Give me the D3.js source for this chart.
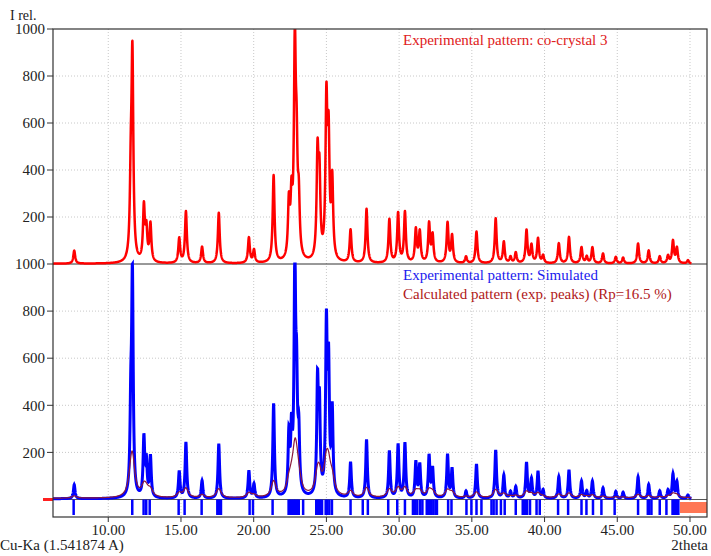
<!DOCTYPE html>
<html>
<head>
<meta charset="utf-8">
<script src="https://cdn.jsdelivr.net/npm/d3@7"></script>
<style>
  body { margin: 0; background: #fff; }
  svg { display: block; }
  text { font-family: "Times New Roman", "Liberation Serif", "DejaVu Serif", serif; }
</style>
</head>
<body>
<svg width="711" height="556"></svg>
<script>
'use strict';

// peak positions (2theta) and relative intensities
const peakPos = [7.66, 11.55, 11.66, 12.45, 12.62, 12.90, 14.88, 15.34, 16.45, 17.60,
  19.67, 20.02, 21.37, 22.42, 22.60, 22.83, 22.95, 23.10, 24.39, 24.52,
  25.00, 25.15, 25.40, 26.66, 27.76, 29.33, 29.93, 30.40, 31.15, 31.42,
  32.06, 32.30, 33.33, 33.64, 34.60, 35.32, 36.64, 37.20, 37.66, 38.02,
  38.76, 39.10, 39.55, 39.90, 40.98, 41.68, 42.54, 42.90, 43.29, 44.02,
  44.90, 45.40, 46.43, 47.16, 47.92, 48.49, 48.83, 49.10, 49.86];
const peakInt = [55, 300, 850, 230, 130, 160, 105, 220, 70, 215,
  108, 55, 370, 230, 230, 880, 380, 220, 430, 330,
  650, 480, 330, 140, 230, 185, 210, 215, 140, 130,
  165, 115, 170, 115, 28, 135, 190, 90, 26, 45,
  140, 75, 105, 32, 85, 112, 68, 28, 68, 42,
  28, 25, 85, 55, 30, 32, 95, 65, 14];

// reflection markers under the lower pattern
const reflections = [7.62, 11.65, 12.43, 12.61, 12.85, 14.84, 15.25, 16.42, 17.5, 17.6, 17.75,
  19.72, 19.95, 21.3, 22.4, 22.5, 22.62, 22.75, 22.85, 22.98, 23.1, 23.4,
  24.3, 24.42, 24.55, 24.7, 24.95, 25.05, 25.2, 25.38, 26.66, 27.5, 27.85,
  29.25, 29.87, 30.4, 30.95, 31.1, 31.25, 31.45, 31.6, 31.9, 32.05, 32.2, 32.35, 32.5, 32.6,
  33.37, 33.6, 34.63, 34.97, 35.32, 35.66, 36.35, 36.5, 36.7, 37.0, 37.26, 38.02,
  38.5, 38.65, 38.8, 39.0, 39.45, 39.67, 40.93, 41.62, 42.54, 42.88, 43.33, 43.91,
  44.82, 46.43, 47.1, 47.2, 47.35, 47.92, 48.38, 48.8, 48.9, 49.0, 49.1, 49.2];

const xTicks = [10, 15, 20, 25, 30, 35, 40, 45, 50];
const yTicks = [200, 400, 600, 800, 1000];

const svg = d3.select('svg');

const x = d3.scaleLinear().domain([6.2, 51.17]).range([53, 707]);
const yTop = d3.scaleLinear().domain([0, 1000]).range([264, 29]);
const yBot = d3.scaleLinear().domain([0, 1000]).range([499.5, 264]);

function profile(gamma, scale, bg) {
  const pts = [];
  for (let t = 6.2; t <= 50.1; t += 0.01) {
    let v = bg;
    for (let i = 0; i < peakPos.length; i++) {
      const d = t - peakPos[i];
      v += scale * peakInt[i] * gamma * gamma / (d * d + gamma * gamma);
    }
    pts.push([t, v]);
  }
  return pts;
}

const expTop = profile(0.075, 1, 1);
const expBot = profile(0.065, 1.08, 3);
const calc = profile(0.2, 0.18, 5);

svg.append('defs').append('clipPath').attr('id', 'plot')
  .append('rect').attr('x', 53).attr('y', 29).attr('width', 654).attr('height', 488);

// grid
const grid = svg.append('g').attr('stroke', '#c8c8c8').attr('stroke-dasharray', '1,2');
grid.selectAll('.vg').data(xTicks).enter().append('line')
  .attr('x1', d => x(d)).attr('x2', d => x(d)).attr('y1', 29).attr('y2', 517);
grid.selectAll('.hg1').data([200, 400, 600, 800]).enter().append('line')
  .attr('x1', 53).attr('x2', 707).attr('y1', d => yTop(d)).attr('y2', d => yTop(d));
grid.selectAll('.hg2').data([200, 400, 600, 800]).enter().append('line')
  .attr('x1', 53).attr('x2', 707).attr('y1', d => yBot(d)).attr('y2', d => yBot(d));

// panel separators
svg.append('line').attr('x1', 53).attr('x2', 707).attr('y1', 264).attr('y2', 264)
  .attr('stroke', '#333').attr('stroke-width', 1);
svg.append('line').attr('x1', 53).attr('x2', 707).attr('y1', yBot(0)).attr('y2', yBot(0))
  .attr('stroke', '#555').attr('stroke-width', 1);

const plot = svg.append('g').attr('clip-path', 'url(#plot)');

// top: experimental pattern
plot.append('path')
  .datum(expTop)
  .attr('fill', 'none')
  .attr('stroke', '#ff0000')
  .attr('stroke-width', 2.5)
  .attr('stroke-linejoin', 'round')
  .attr('d', d3.line().x(d => x(d[0])).y(d => yTop(Math.min(d[1], 1000))));

// bottom: simulated (blue) and calculated (dark red)
plot.append('path')
  .datum(expBot)
  .attr('fill', 'none')
  .attr('stroke', '#0000ff')
  .attr('stroke-width', 3)
  .attr('d', d3.line().x(d => x(d[0])).y(d => yBot(Math.min(d[1], 1000))));

plot.append('path')
  .datum(calc)
  .attr('fill', 'none')
  .attr('stroke', '#8b1a3c')
  .attr('stroke-width', 1.2)
  .attr('d', d3.line().x(d => x(d[0])).y(d => yBot(d[1])));

// reflection markers
plot.selectAll('.refl').data(reflections).enter().append('line')
  .attr('x1', d => x(d)).attr('x2', d => x(d))
  .attr('y1', yBot(0)).attr('y2', 515)
  .attr('stroke', '#0000ff').attr('stroke-width', 2.5);

svg.append('rect').attr('x', 680).attr('y', 502).attr('width', 27).attr('height', 11)
  .attr('fill', '#ff7755');

svg.append('line').attr('x1', 43).attr('x2', 53).attr('y1', yBot(0)).attr('y2', yBot(0))
  .attr('stroke', '#ff2020').attr('stroke-width', 3);

// frame
svg.append('rect').attr('x', 53).attr('y', 29).attr('width', 654).attr('height', 488)
  .attr('fill', 'none').attr('stroke', '#333').attr('stroke-width', 1.2);

// y axis ticks and labels
const yl = svg.append('g').attr('font-size', 15).attr('fill', '#222').attr('text-anchor', 'end');
[[yTop, yTicks], [yBot, [200, 400, 600, 800]]].forEach(([sc, ticks]) => {
  ticks.forEach(v => {
    svg.append('line').attr('x1', 47).attr('x2', 53).attr('y1', sc(v)).attr('y2', sc(v))
      .attr('stroke', '#333');
    yl.append('text').attr('x', 45).attr('y', sc(v)).attr('dy', '0.35em').text(v);
  });
});
svg.append('line').attr('x1', 47).attr('x2', 53).attr('y1', 264).attr('y2', 264).attr('stroke', '#333');
yl.append('text').attr('x', 45).attr('y', 264).attr('dy', '0.35em').text('1000');

svg.append('text').attr('x', 10).attr('y', 20).attr('font-size', 14).attr('fill', '#222').text('I rel.');

// x axis
svg.selectAll('.xt').data(xTicks).enter().append('line')
  .attr('x1', d => x(d)).attr('x2', d => x(d)).attr('y1', 517).attr('y2', 522)
  .attr('stroke', '#333');
svg.selectAll('.xl').data(xTicks).enter().append('text')
  .attr('x', d => x(d)).attr('y', 535)
  .attr('text-anchor', 'middle').attr('font-size', 15).attr('fill', '#222')
  .text(d => d.toFixed(2));

svg.append('text').attr('x', 0).attr('y', 550).attr('font-size', 15).attr('fill', '#222')
  .text('Cu-Ka (1.541874 A)');
svg.append('text').attr('x', 708).attr('y', 550).attr('font-size', 15).attr('fill', '#222')
  .attr('text-anchor', 'end').text('2theta');

// legends
svg.append('text').attr('x', 403).attr('y', 45).attr('font-size', 15).attr('fill', '#e02020')
  .text('Experimental pattern: co-crystal 3');
svg.append('text').attr('x', 403).attr('y', 280).attr('font-size', 15).attr('fill', '#1a1aee')
  .text('Experimental pattern: Simulated');
svg.append('text').attr('x', 403).attr('y', 299).attr('font-size', 15).attr('fill', '#b01818')
  .text('Calculated pattern (exp. peaks) (Rp=16.5 %)');
</script>
</body>
</html>
